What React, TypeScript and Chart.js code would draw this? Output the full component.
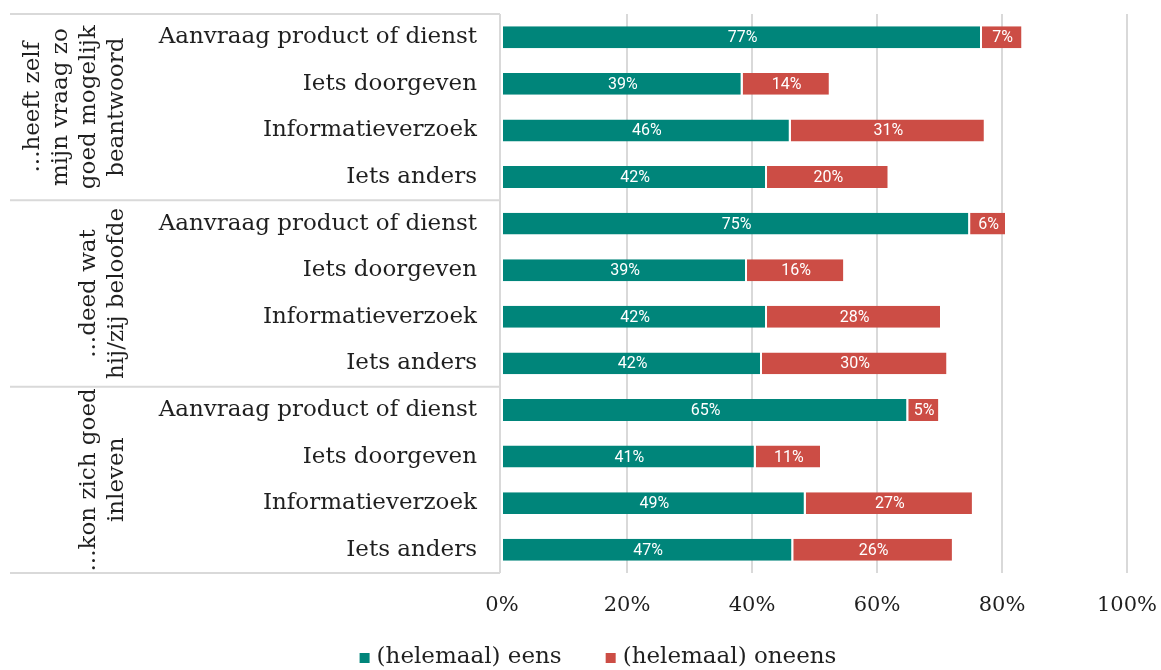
import React, { useEffect, useRef } from "react";
import { Chart, registerables } from "chart.js";

Chart.register(...registerables);

const categories = [
  "Aanvraag product of dienst",
  "Iets doorgeven",
  "Informatieverzoek",
  "Iets anders",
  "Aanvraag product of dienst",
  "Iets doorgeven",
  "Informatieverzoek",
  "Iets anders",
  "Aanvraag product of dienst",
  "Iets doorgeven",
  "Informatieverzoek",
  "Iets anders",
];

const groupLabels = [
  ["...heeft zelf", "mijn vraag zo", "goed mogelijk", "beantwoord"],
  ["...deed wat", "hij/zij beloofde"],
  ["...kon zich goed", "inleven"],
];
const groupSizes = [4, 4, 4];

const eens = [76.8, 38.5, 46.2, 42.4, 74.9, 39.2, 42.4, 41.6, 65.0, 40.6, 48.6, 46.6];
const oneens = [6.6, 14.1, 31.2, 19.6, 5.9, 15.7, 28.0, 29.8, 5.1, 10.6, 26.9, 25.7];

const seriesNames = ["(helemaal) eens", "(helemaal) oneens"];
const seriesColors = ["#00857a", "#cc4d45"];
const xTickStep = 20;
const xMin = 0;
const xMax = 100;

const SERIF = "'DejaVu Serif', serif";
const TEXT = "#1f1f1f";
const LINE = "#d9d9d9";

const overlay = {
  id: "overlay",
  beforeDatasetsDraw(chart: any) {
    const { ctx, chartArea } = chart;
    const step = (chartArea.bottom - chartArea.top) / categories.length;
    ctx.save();
    ctx.strokeStyle = LINE;
    ctx.lineWidth = 2;
    const ys = [chartArea.top];
    let idx = 0;
    groupSizes.forEach((n) => {
      idx += n;
      ys.push(chartArea.top + idx * step);
    });
    ys.forEach((yy) => {
      ctx.beginPath();
      ctx.moveTo(10, yy);
      ctx.lineTo(chartArea.left - 2, yy);
      ctx.stroke();
    });
    ctx.beginPath();
    ctx.moveTo(chartArea.left - 2, chartArea.top);
    ctx.lineTo(chartArea.left - 2, chartArea.bottom);
    ctx.stroke();
    ctx.restore();
  },
  afterDatasetsDraw(chart: any) {
    const { ctx } = chart;
    ctx.save();
    ctx.font = "16px Roboto";
    ctx.fillStyle = "#ffffff";
    ctx.textAlign = "center";
    ctx.textBaseline = "middle";
    chart.data.datasets.forEach((ds: any, di: number) => {
      const meta = chart.getDatasetMeta(di);
      meta.data.forEach((el: any, i: number) => {
        const v = ds.data[i];
        const cx = (el.x + el.base) / 2;
        ctx.fillText(Math.round(v) + "%", cx, el.y + 1);
      });
    });
    ctx.restore();
  },
  afterDraw(chart: any) {
    const { ctx, chartArea } = chart;
    const step = (chartArea.bottom - chartArea.top) / categories.length;
    ctx.save();
    ctx.fillStyle = TEXT;
    ctx.font = "23px " + SERIF;
    ctx.textAlign = "center";
    ctx.textBaseline = "middle";
    let start = 0;
    groupLabels.forEach((lines, gi) => {
      const n = groupSizes[gi];
      const cy = chartArea.top + (start + n / 2) * step;
      lines.forEach((line, li) => {
        const x = 117 - (lines.length - 1 - li) * 28;
        ctx.save();
        ctx.translate(x, cy);
        ctx.rotate(-Math.PI / 2);
        ctx.fillText(line, 0, 0);
        ctx.restore();
      });
      start += n;
    });

    // legend
    ctx.font = "23px " + SERIF;
    ctx.textAlign = "left";
    const box = 10;
    const gapBoxText = 7;
    const gapItems = 44;
    const widths = seriesNames.map((s) => box + gapBoxText + ctx.measureText(s).width);
    const total = widths.reduce((a, b) => a + b, 0) + gapItems * (seriesNames.length - 1);
    let x = 598 - total / 2;
    const ly = 657;
    seriesNames.forEach((s, i) => {
      ctx.fillStyle = seriesColors[i];
      ctx.fillRect(x, ly - box / 2 + 1, box, box);
      ctx.fillStyle = TEXT;
      ctx.fillText(s, x + box + gapBoxText, ly);
      x += widths[i] + gapItems;
    });
    ctx.restore();
  },
};

export default function App() {
  const ref = useRef<HTMLCanvasElement>(null);
  useEffect(() => {
    if (!ref.current) return;
    const chart = new Chart(ref.current, {
      type: "bar",
      data: {
        labels: categories,
        datasets: [
          {
            label: seriesNames[0],
            data: eens,
            backgroundColor: seriesColors[0],
            borderColor: "#ffffff",
            borderWidth: { left: 0, top: 0, bottom: 0, right: 2 },
            borderSkipped: false,
            barPercentage: 0.47,
            categoryPercentage: 1,
          },
          {
            label: seriesNames[1],
            data: oneens,
            backgroundColor: seriesColors[1],
            borderColor: "#ffffff",
            borderWidth: { left: 0, top: 0, bottom: 0, right: 2 },
            borderSkipped: false,
            barPercentage: 0.47,
            categoryPercentage: 1,
          },
        ],
      },
      options: {
        indexAxis: "y",
        responsive: false,
        animation: false,
        layout: { padding: { top: 14, right: 34, left: 0, bottom: 0 } },
        plugins: {
          legend: { display: false },
          tooltip: { enabled: false },
        },
        scales: {
          x: {
            stacked: true,
            min: xMin,
            max: xMax,
            ticks: {
              stepSize: xTickStep,
              callback: (v: any) => v + "%",
              color: TEXT,
              font: { family: SERIF, size: 21 },
              padding: 20,
            },
            grid: {
              color: (c: any) => (c.tick && c.tick.value === 0 ? "rgba(0,0,0,0)" : LINE),
              lineWidth: 2,
              drawTicks: false,
            },
            border: { display: false },
            afterFit: (s: any) => {
              s.height = 97;
              s.paddingLeft = 0;
              s.paddingRight = 0;
            },
          },
          y: {
            stacked: true,
            ticks: {
              color: TEXT,
              font: { family: SERIF, size: 23 },
              padding: 25,
              autoSkip: false,
            },
            grid: { display: false, drawTicks: false },
            border: { display: false },
            afterFit: (s: any) => {
              s.width = 502;
              s.paddingTop = 0;
              s.paddingBottom = 0;
            },
          },
        },
      },
      plugins: [overlay],
    });
    return () => chart.destroy();
  }, []);
  return (
    <canvas
      ref={ref}
      width={1161}
      height={670}
      style={{ position: "absolute", left: 0, top: 0, display: "block" }}
    />
  );
}
